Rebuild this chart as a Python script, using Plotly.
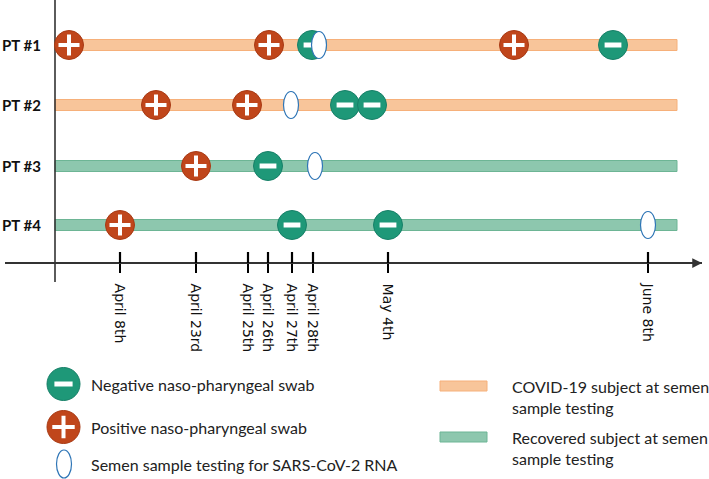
import plotly.graph_objects as go

# ---------------- data ----------------
patients = ["PT #1", "PT #2", "PT #3", "PT #4"]
patient_status = ["covid", "covid", "recovered", "recovered"]

tick_labels = ["April 8th", "April 23rd", "April 25th", "April 26th",
               "April 27th", "April 28th", "May 4th", "June 8th"]
tick_pos = [120, 196, 248, 268, 292, 313, 388, 648]   # schematic timeline positions

# positions of events on the schematic timeline, per patient
positive_swabs = [[69, 269, 514], [156, 247], [196], [120]]
negative_swabs = [[312, 613], [345, 372], [268], [292, 388]]
semen_tests = [319, 291, 315, 648]

timeline_start = 55
timeline_end = 677

legend_left = ["Negative naso-pharyngeal swab", "Positive naso-pharyngeal swab",
               "Semen sample testing for SARS-CoV-2 RNA"]
legend_right = ["COVID-19 subject at semen<br>sample testing",
                "Recovered subject at semen<br>sample testing"]

# ---------------- layout constants ----------------
W, H = 709, 479
row_y = [45, 105, 166, 225]
axis_y = 263
POS_C = "#C0461B"
NEG_C = "#1E9878"
BAR_C = {"covid": ("#F8C59A", "#F6B07A"), "recovered": ("#8DC7AE", "#6DB595")}
SEMEN_LINE = "#2E75B6"

fig = go.Figure()
shapes = []
annotations = []

# timeline bars
for y, st in zip(row_y, patient_status):
    fill, edge = BAR_C[st]
    shapes.append(dict(type="rect", xref="x", yref="y", x0=timeline_start, x1=timeline_end,
                       y0=y - 5.5, y1=y + 5.5, fillcolor=fill,
                       line=dict(color=edge, width=1), layer="below"))

# vertical axis line
shapes.append(dict(type="line", xref="x", yref="y", x0=55, x1=55, y0=0, y1=282,
                   line=dict(color="#333333", width=1.6), layer="below"))

# upper half of tick marks
for p in tick_pos:
    shapes.append(dict(type="line", xref="x", yref="y", x0=p, x1=p, y0=axis_y - 11, y1=axis_y,
                       line=dict(color="black", width=2.2)))

# arrow at the end of time axis
annotations.append(dict(x=702, y=axis_y, ax=690, ay=axis_y, xref="x", yref="y",
                        axref="x", ayref="y", showarrow=True, arrowhead=2, arrowsize=1.3,
                        arrowwidth=1.5, arrowcolor="#333333", text=""))

# positive / negative swabs
px, py, nx, ny = [], [], [], []
for y, ps, ns in zip(row_y, positive_swabs, negative_swabs):
    px += ps
    py += [y] * len(ps)
    nx += ns
    ny += [y] * len(ns)

def add_swabs(xs, ys, color, edge, symbol, ssize, swidth):
    fig.add_trace(go.Scatter(x=xs, y=ys, mode="markers", cliponaxis=False, hoverinfo="skip",
                             marker=dict(size=29, color=color, line=dict(color=edge, width=1))))
    fig.add_trace(go.Scatter(x=xs, y=ys, mode="markers", cliponaxis=False, hoverinfo="skip",
                             marker=dict(size=ssize, symbol=symbol, color="white",
                                         line=dict(color="white", width=swidth))))

add_swabs(px, py, POS_C, "#A83A14", "cross-thin", 15, 4)
add_swabs(nx, ny, NEG_C, "#178068", "line-ew", 12, 5)

# semen tests (ellipses)
for x, y in zip(semen_tests, row_y):
    shapes.append(dict(type="circle", xref="x", yref="y", x0=x - 7.5, x1=x + 7.5,
                       y0=y - 13.5, y1=y + 13.5, fillcolor="white",
                       line=dict(color=SEMEN_LINE, width=1.2), layer="above"))

# patient labels
for name, y in zip(patients, row_y):
    annotations.append(dict(x=0, y=y, xref="paper", yref="y", xanchor="left", yanchor="middle",
                            text="<b>%s</b>" % name, showarrow=False,
                            font=dict(family="Lato", size=15, color="#111111")))

# ---------------- legend ----------------
leg_y = [384, 427, 464]
fig.add_trace(go.Scatter(x=[63.5], y=[leg_y[0]], mode="markers", cliponaxis=False, hoverinfo="skip",
                         marker=dict(size=33, color=NEG_C, line=dict(color="#178068", width=1))))
fig.add_trace(go.Scatter(x=[63.5], y=[leg_y[0]], mode="markers", cliponaxis=False, hoverinfo="skip",
                         marker=dict(size=13, symbol="line-ew", color="white",
                                     line=dict(color="white", width=5))))
fig.add_trace(go.Scatter(x=[63.5], y=[leg_y[1]], mode="markers", cliponaxis=False, hoverinfo="skip",
                         marker=dict(size=33, color=POS_C, line=dict(color="#A83A14", width=1))))
fig.add_trace(go.Scatter(x=[63.5], y=[leg_y[1]], mode="markers", cliponaxis=False, hoverinfo="skip",
                         marker=dict(size=16, symbol="cross-thin", color="white",
                                     line=dict(color="white", width=4))))
shapes.append(dict(type="circle", xref="x", yref="y", x0=64 - 7.5, x1=64 + 7.5,
                   y0=leg_y[2] - 14, y1=leg_y[2] + 14, fillcolor="white",
                   line=dict(color=SEMEN_LINE, width=1.2)))
for t, y in zip(legend_left, leg_y):
    annotations.append(dict(x=89, y=y, xref="x", yref="y", xanchor="left", yanchor="middle",
                            text=t, showarrow=False,
                            font=dict(family="Lato", size=16, color="#222222")))

leg_r_y = [386, 437]
for st, t, y in zip(["covid", "recovered"], legend_right, leg_r_y):
    fill, edge = BAR_C[st]
    shapes.append(dict(type="rect", xref="x", yref="y", x0=440, x1=487, y0=y - 5, y1=y + 5,
                       fillcolor=fill, line=dict(color=edge, width=1)))
    annotations.append(dict(x=510, y=y - 11, xref="x", yref="y", xanchor="left", yanchor="top",
                            text=t, showarrow=False, align="left",
                            font=dict(family="Lato", size=16, color="#222222")))

fig.update_layout(
    width=W, height=H, margin=dict(l=0, r=0, t=0, b=0),
    paper_bgcolor="white", plot_bgcolor="white", showlegend=False,
    shapes=shapes, annotations=annotations,
    xaxis=dict(domain=[5 / W, 702 / W], range=[5, 702], anchor="free",
               position=1 - axis_y / H, showline=True, linecolor="#333333", linewidth=1.6,
               tickvals=tick_pos, ticktext=tick_labels, tickangle=90,
               ticks="outside", ticklen=9, tickwidth=2.2, tickcolor="black",
               ticklabelstandoff=8,
               tickfont=dict(family="DejaVu Sans", size=14, color="#111111"),
               showgrid=False, zeroline=False, fixedrange=True),
    yaxis=dict(domain=[0, 1], range=[H, 0], visible=False, fixedrange=True),
)

fig.write_html("out.html", config={"displayModeBar": False},
               post_script="document.body.style.margin='0';document.body.style.overflow='hidden';")
